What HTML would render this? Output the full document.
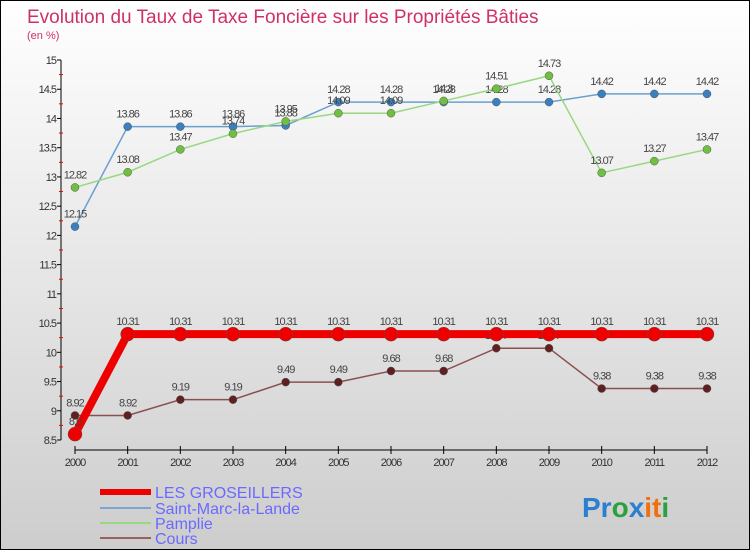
<!DOCTYPE html>
<html><head><meta charset="utf-8"><style>
body{margin:0}
svg text{font-family:"Liberation Sans",sans-serif}
</style></head><body>
<svg width="750" height="550" xmlns="http://www.w3.org/2000/svg">
<defs><linearGradient id="bg" x1="0" y1="0" x2="0" y2="1"><stop offset="0" stop-color="#ffffff"/><stop offset="1" stop-color="#cdcdcd"/></linearGradient></defs>
<rect x="0.5" y="0.5" width="749" height="549" fill="url(#bg)" stroke="#000"/>
<text x="27" y="23" font-size="19" fill="#d0306a">Evolution du Taux de Taxe Foncière sur les Propriétés Bâties</text>
<text x="27" y="39" font-size="11" fill="#d0306a">(en %)</text>
<g id="axes"></g><g id="series"></g>
<g>
<line x1="100" y1="492" x2="151" y2="492" stroke="#e00" stroke-width="6"/>
<text x="155" y="498" font-size="16" fill="#6a6aff">LES GROSEILLERS</text>
<line x1="100" y1="508" x2="151" y2="508" stroke="#7aa6d0" stroke-width="2"/>
<text x="155" y="514" font-size="16" fill="#6a6aff">Saint-Marc-la-Lande</text>
<line x1="100" y1="523" x2="151" y2="523" stroke="#98d880" stroke-width="2"/>
<text x="155" y="529" font-size="16" fill="#6a6aff">Pamplie</text>
<line x1="100" y1="538" x2="151" y2="538" stroke="#9a6060" stroke-width="2"/>
<text x="155" y="544" font-size="16" fill="#6a6aff">Cours</text>
</g>
<text x="582" y="517" font-size="28" font-weight="bold"><tspan fill="#2a7fd0">Pr</tspan><tspan fill="#2aa040">o</tspan><tspan fill="#2a7fd0">x</tspan><tspan fill="#f07010">it</tspan><tspan fill="#2aa040">i</tspan></text>
</svg>
<script>
const years=[2000,2001,2002,2003,2004,2005,2006,2007,2008,2009,2010,2011,2012];
const groseillers=[8.6,10.31,10.31,10.31,10.31,10.31,10.31,10.31,10.31,10.31,10.31,10.31,10.31];
const saintMarc=[12.15,13.86,13.86,13.86,13.88,14.28,14.28,14.28,14.28,14.28,14.42,14.42,14.42];
const pamplie=[12.82,13.08,13.47,13.74,13.95,14.09,14.09,14.3,14.51,14.73,13.07,13.27,13.47];
const cours=[8.92,8.92,9.19,9.19,9.49,9.49,9.68,9.68,10.07,10.07,9.38,9.38,9.38];
const yTicks=[8.5,9,9.5,10,10.5,11,11.5,12,12.5,13,13.5,14,14.5,15];
const NS="http://www.w3.org/2000/svg";
const X=i=>75+i*(707-75)/(years.length-1);
const Y=v=>60+(15-v)*(380/6.5);
function mk(tag,attrs,parent){const e=document.createElementNS(NS,tag);for(const k in attrs)e.setAttribute(k,attrs[k]);parent.appendChild(e);return e;}
const ax=document.getElementById('axes');
let l=mk('line',{x1:61,y1:Y(15),x2:61,y2:Y(8.5),stroke:'#000'},ax);


yTicks.forEach((v,k)=>{
 mk('line',{x1:57,y1:Y(v),x2:61,y2:Y(v),stroke:'#000'},ax);
 if(k<yTicks.length-1) mk('line',{x1:59,y1:Y(v+0.25),x2:63,y2:Y(v+0.25),stroke:'#e00'},ax);
 const t=mk('text',{x:56,y:Y(v)+4,'font-size':11,'text-anchor':'end',fill:'#333','letter-spacing':'-1'},ax);
 t.textContent=String(v);
 
 
});
l=mk('line',{x1:X(0),y1:450,x2:X(12),y2:450,stroke:'#000'},ax);


years.forEach((y,i)=>{
 mk('line',{x1:X(i),y1:446,x2:X(i),y2:454,stroke:'#000'},ax);
 const t=mk('text',{x:X(i),y:466,'font-size':11,'text-anchor':'middle',fill:'#333','letter-spacing':'-1'},ax);
 t.textContent=y;
 
 
});
const sg=document.getElementById('series');
function series(vals,name,color,dot,w,r,labels){
 const g=mk('g',{},sg);
 
 
 mk('polyline',{points:vals.map((v,i)=>X(i)+','+Y(v)).join(' '),fill:'none',stroke:color,'stroke-width':w},g);
 vals.forEach((v,i)=>{
  const c=mk('circle',{cx:X(i),cy:Y(v),r:r,fill:dot,stroke:'#555','stroke-width':0.5},g);
  
  
  if(labels){const t=mk('text',{x:X(i),y:Y(v)-9,'font-size':11,'text-anchor':'middle',fill:'#444','letter-spacing':'-1'},g);
  t.textContent=String(v);
  
  }
 });
}
series(saintMarc,'series-saint-marc','#6aa0d0','#3a80c0',1.5,4,true);
series(pamplie,'series-pamplie','#98d880','#70c040',1.5,4,true);
series(cours,'series-cours','#8a5050','#602020',1.5,4,true);
series(groseillers,'series-les-groseillers','#ee0000','#ee0000',8,7,true);
</script>
</body></html>
